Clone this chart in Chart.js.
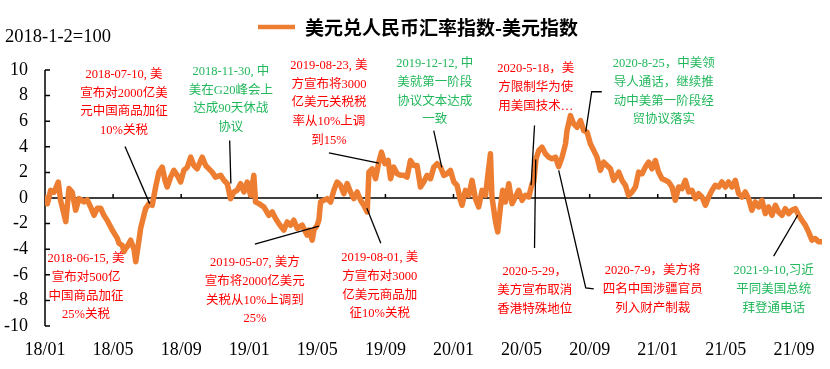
<!DOCTYPE html>
<html lang="zh">
<head>
    <meta charset="UTF-8">
    <title>美元兑人民币汇率指数-美元指数</title>
    <script src="https://cdn.jsdelivr.net/npm/chart.js"></script>
    <style>
      html, body { margin: 0; padding: 0; background: #fff; }
      #wrap { width: 830px; height: 369px; }
    </style>
</head>
<body>
    <div id="wrap"><canvas id="myChart"></canvas></div>

    <script>
    // x position = months since 2018-01 (0 = 18/01, 4 = 18/05, ...)
    const monthPos = [
        0.03,0.14,0.33,0.53,0.78,0.92,1.22,1.41,1.60,1.80,
        2.00,2.29,2.48,2.68,2.88,3.07,3.27,3.46,3.66,3.95,
        4.25,4.35,4.54,4.64,4.74,4.83,5.03,5.23,5.33,5.52,
        5.62,5.81,5.91,6.11,6.30,6.50,6.69,6.89,7.05,7.18,
        7.38,7.57,7.77,7.97,8.16,8.36,8.56,8.75,8.94,9.24,
        9.44,9.63,9.82,10.02,10.32,10.51,10.71,10.90,11.10,11.29,
        11.49,11.69,11.88,12.08,12.27,12.37,12.57,12.86,13.15,13.35,
        13.55,13.74,14.03,14.23,14.43,14.62,14.82,15.11,15.40,15.50,
        15.70,15.80,15.99,16.09,16.19,16.38,16.58,16.78,16.97,17.16,
        17.36,17.56,17.75,17.95,18.14,18.34,18.54,18.73,18.93,19.03,
        19.22,19.42,19.61,19.77,19.97,20.16,20.30,20.49,20.69,20.89,
        21.08,21.27,21.47,21.67,21.86,22.06,22.25,22.45,22.65,22.84,
        23.04,23.24,23.43,23.62,23.82,24.02,24.21,24.41,24.50,24.70,
        24.90,25.09,25.29,25.48,25.68,25.88,26.03,26.17,26.26,26.47,
        26.60,26.76,26.89,27.05,27.25,27.44,27.64,27.83,28.03,28.23,
        28.42,28.62,28.71,28.85,29.01,29.20,29.40,29.60,29.79,29.99,
        30.18,30.38,30.58,30.67,30.87,31.06,31.26,31.46,31.65,31.85,
        32.04,32.24,32.43,32.63,32.82,33.02,33.22,33.41,33.71,33.90,
        34.10,34.29,34.49,34.69,34.88,35.08,35.27,35.47,35.66,35.86,
        36.05,36.25,36.45,36.64,36.84,37.03,37.23,37.42,37.62,37.82,
        38.01,38.21,38.40,38.60,38.80,38.99,39.19,39.38,39.58,39.77,
        39.97,40.16,40.36,40.56,40.75,40.95,41.14,41.34,41.53,41.73,
        41.93,42.12,42.32,42.51,42.71,42.91,43.10,43.30,43.49,43.69,
        43.88,44.08,44.28,44.47,44.67,44.86,45.06,45.25,45.45,45.65
    ];

    const indexValues = [
        0,-0.45,0.6,0.45,1.25,-0.2,-1.85,0.75,0.45,-0.95,
        -0.05,-0.3,-0.15,-0.7,-1.35,-0.8,-0.8,-1.35,-1.75,-2.5,
        -3.15,-3.55,-3.7,-4.2,-3.95,-3.8,-3.3,-4.0,-4.98,-3.3,
        -2.38,-1.35,-0.83,-0.44,-0.57,0.86,2.02,2.41,1.38,0.86,
        1.63,2.16,1.77,1.25,2.16,2.41,3.19,2.54,2.28,3.19,
        2.54,2.28,2.02,1.63,1.77,1.38,1.12,-0.05,0.47,0.6,
        1.12,0.47,1.25,0.21,1.77,-0.31,-0.44,-0.7,-1.35,-1.09,
        -1.6,-2.0,-2.51,-1.87,-2.12,-1.74,-2.38,-2.12,-2.9,-2.51,
        -3.29,-2.51,-2.12,-1.74,-0.31,-0.18,-0.05,-0.31,0.6,1.25,
        0.99,0.34,1.12,0.47,-0.05,0.47,-0.18,-0.57,-1.09,2.02,
        2.28,1.51,2.8,3.58,2.68,2.93,1.51,2.41,1.9,1.77,
        1.77,1.63,2.93,2.54,2.54,0.86,1.25,1.77,1.51,2.41,
        2.68,2.41,1.77,1.9,2.16,1.25,0.99,-0.18,-0.57,0.6,
        0.21,1.38,-0.05,-0.7,0.6,0.21,1.9,3.45,0.08,-1.87,
        -2.65,-0.7,0.6,-0.31,1.12,-0.44,0.08,0.6,-0.18,0.21,
        0.08,1.12,1.25,3.07,3.71,3.97,3.45,3.19,3.07,3.19,
        2.45,3.19,4.23,5.27,6.44,5.79,5.53,6.05,5.27,5.14,
        4.23,3.71,3.19,2.16,2.8,2.54,2.28,1.38,2.02,1.38,
        0.99,0.21,0.47,0.86,2.02,1.9,2.41,2.8,2.28,2.93,
        2.02,1.51,1.38,1.25,0.86,-0.18,0.86,0.73,1.38,0.47,
        0.6,-0.05,0.34,0.08,-0.57,0.08,0.6,0.99,0.86,1.25,
        0.86,1.25,0.86,1.38,0.34,0.08,0.47,-0.05,-0.96,-0.31,
        -0.7,-0.18,-1.22,-0.7,-1.35,-0.57,-1.09,-1.35,-0.83,-1.22,
        -0.96,-0.83,-1.35,-1.74,-2.12,-2.65,-3.29,-3.16,-3.42,-3.42
    ];

    const tickMonths = [0, 4, 8, 12, 16, 20, 24, 28, 32, 36, 40, 44];
    const tickLabels = ['18/01','18/05','18/09','19/01','19/05','19/09','20/01','20/05','20/09','21/01','21/05','21/09'];

    const seriesName = '美元兑人民币汇率指数-美元指数';
    const baseNote = '2018-1-2=100';

    const RED = '#ff0000';
    const GREEN = '#22b85c';

    // event notes: text block centre (month, value of first line) and leader path (month, value)
    const events = [
        { lines: ['2018-07-10, 美', '宣布对2000亿美', '元中国商品加征', '10%关税'], color: RED,
          at: [4.64, 9.63], leader: [[4.70, 4.02], [6.15, -0.44]] },
        { lines: ['2018-11-30, 中', '美在G20峰会上', '达成90天休战', '协议'], color: GREEN,
          at: [10.92, 9.86], leader: [[10.85, 4.49], [10.92, 1.14]] },
        { lines: ['2019-08-23, 美', '方宣布将3000', '亿美元关税税', '率从10%上调', '到15%'], color: RED,
          at: [16.68, 10.33], leader: [[16.68, 3.53], [19.61, 2.72]] },
        { lines: ['2019-12-12, 中', '美就第一阶段', '协议文本达成', '一致'], color: GREEN,
          at: [22.90, 10.48], leader: [[22.84, 5.27], [23.31, 2.39]] },
        { lines: ['2020-5-18，美', '方限制华为使', '用美国技术…'], color: RED,
          at: [28.83, 10.09], leader: [[28.76, 5.66], [28.56, 0.99]] },
        { lines: ['2020-8-25，中美领', '导人通话，继续推', '动中美第一阶段经', '贸协议落实'], color: GREEN,
          at: [36.35, 10.48], leader: [[32.71, 8.30], [32.12, 8.30], [31.77, 5.19]] },
        { lines: ['2018-06-15, 美', '宣布对500亿', '中国商品加征', '25%关税'], color: RED,
          at: [2.41, -4.77], leader: [] },
        { lines: ['2019-05-07, 美方', '宣布将2000亿美元', '关税从10%上调到', '25%'], color: RED,
          at: [12.33, -5.08], leader: [[12.33, -3.60], [16.09, -2.20]] },
        { lines: ['2019-08-01, 美', '方宣布对3000', '亿美元商品加', '征10%关税'], color: RED,
          at: [19.67, -4.69], leader: [[19.73, -3.53], [18.91, -0.80]] },
        { lines: ['2020-5-29，', '美方宣布取消', '香港特殊地位'], color: RED,
          at: [28.77, -5.78], leader: [[28.76, -3.91], [28.83, 3.01]] },
        { lines: ['2020-7-9，美方将', '四名中国涉疆官员', '列入财产制裁'], color: RED,
          at: [35.70, -5.70], leader: [[32.24, -7.10], [31.77, -7.03], [30.18, 2.16]] },
        { lines: ['2021-9-10,习近', '平同美国总统', '拜登通电话'], color: GREEN,
          at: [42.81, -5.70], leader: [[42.81, -4.54], [44.22, -1.35]] }
    ];

    const SERIF = '"Liberation Serif", "Times New Roman", "Noto Sans CJK SC", serif';
    const NOTE_FONT = '12.5px "Liberation Serif", "Noto Sans CJK SC", serif';

    const overlay = {
        id: 'overlay',
        beforeDatasetsDraw(chart) {
            const ctx = chart.ctx, xs = chart.scales.x, ys = chart.scales.y;
            const a = chart.chartArea;
            const y0 = ys.getPixelForValue(0);
            ctx.save();
            ctx.strokeStyle = '#000';
            ctx.lineWidth = 1.5;
            ctx.beginPath();
            ctx.moveTo(a.left, ys.getPixelForValue(10));
            ctx.lineTo(a.left, ys.getPixelForValue(-10));
            for (let v = -10; v <= 10; v += 2) {
                const p = ys.getPixelForValue(v);
                ctx.moveTo(a.left, p);
                ctx.lineTo(a.left + 5, p);
            }
            ctx.moveTo(a.left, y0);
            ctx.lineTo(a.right, y0);
            tickMonths.slice(1).forEach(m => {
                const p = xs.getPixelForValue(m);
                ctx.moveTo(p, y0);
                ctx.lineTo(p, y0 - 4);
            });
            ctx.stroke();
            ctx.restore();
        },
        afterDraw(chart) {
            const ctx = chart.ctx, xs = chart.scales.x, ys = chart.scales.y;
            ctx.save();
            // leader lines
            ctx.strokeStyle = '#000';
            ctx.lineWidth = 1.3;
            events.forEach(ev => {
                if (!ev.leader.length) return;
                ctx.beginPath();
                ev.leader.forEach((pt, i) => {
                    const px = xs.getPixelForValue(pt[0]), py = ys.getPixelForValue(pt[1]);
                    if (i === 0) ctx.moveTo(px, py); else ctx.lineTo(px, py);
                });
                ctx.stroke();
            });
            // note texts
            ctx.font = NOTE_FONT;
            ctx.textAlign = 'center';
            ctx.textBaseline = 'middle';
            events.forEach(ev => {
                const cx = xs.getPixelForValue(ev.at[0]);
                const cy = ys.getPixelForValue(ev.at[1]);
                ctx.fillStyle = ev.color;
                ev.lines.forEach((t, i) => ctx.fillText(t, cx, cy + i * 18.7));
            });
            // base note
            ctx.fillStyle = '#000';
            ctx.textAlign = 'left';
            ctx.font = '18.5px ' + SERIF;
            ctx.fillText(baseNote, 5, 37);
            // legend
            ctx.strokeStyle = '#ed7d31';
            ctx.lineWidth = 4.5;
            ctx.beginPath();
            ctx.moveTo(258, 27);
            ctx.lineTo(295, 27);
            ctx.stroke();
            ctx.font = 'bold 19px "Noto Sans CJK SC", sans-serif';
            ctx.fillStyle = '#000';
            ctx.fillText(seriesName, 305, 28);
            ctx.restore();
        }
    };

    const ctx = document.getElementById('myChart').getContext('2d');
    const myChart = new Chart(ctx, {
        type: 'line',
        data: {
            datasets: [{
                label: seriesName,
                data: monthPos.map((m, i) => ({ x: m, y: indexValues[i] })),
                borderColor: '#ed7d31',
                backgroundColor: '#ed7d31',
                borderWidth: 5.5,
                borderJoinStyle: 'round',
                borderCapStyle: 'round',
                pointRadius: 0,
                tension: 0
            }]
        },
        options: {
            responsive: true,
            maintainAspectRatio: false,
            animation: false,
            layout: { padding: { top: 70, right: 8, left: 0, bottom: 0 } },
            plugins: { legend: { display: false }, tooltip: { enabled: false } },
            scales: {
                x: {
                    type: 'linear',
                    min: 0,
                    max: 45.65,
                    grid: { display: false, drawTicks: false },
                    border: { display: false },
                    afterBuildTicks: s => { s.ticks = tickMonths.map(v => ({ value: v })); },
                    afterFit: s => { s.height = 43; },
                    ticks: {
                        autoSkip: false,
                        maxRotation: 0,
                        padding: 13,
                        color: '#000',
                        font: { family: SERIF, size: 18 },
                        callback: v => tickLabels[tickMonths.indexOf(v)] ?? ''
                    }
                },
                y: {
                    min: -10,
                    max: 10,
                    grid: { display: false, drawTicks: false },
                    border: { display: false },
                    afterFit: s => { s.width = 45; },
                    ticks: {
                        stepSize: 2,
                        padding: 17,
                        color: '#000',
                        font: { family: SERIF, size: 18 }
                    }
                }
            }
        },
        plugins: [overlay]
    });
    </script>
</body>
</html>
